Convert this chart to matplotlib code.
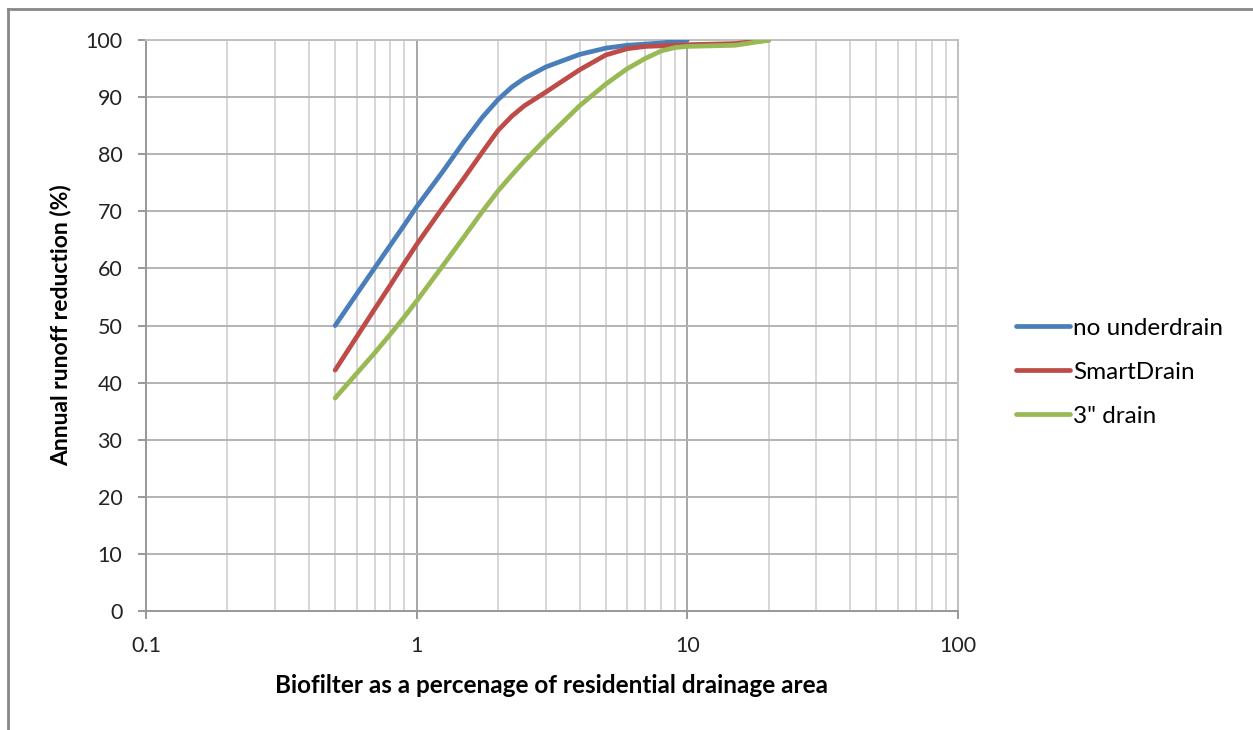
import numpy as np
import matplotlib
matplotlib.use('Agg')
import matplotlib.pyplot as plt
from matplotlib.lines import Line2D
from matplotlib.ticker import LogLocator, FixedLocator, FixedFormatter, NullFormatter

plt.rcParams['font.family'] = ['Lato', 'DejaVu Sans']

# biofilter size as % of drainage area, and annual runoff reduction (%) for each drain type
area_none = [0.5, 0.6, 0.7, 0.8, 0.9, 1, 1.25, 1.5, 1.75, 2, 2.25, 2.5, 3, 4, 5, 6, 8, 10]
red_none = [50.0, 55.5, 60.1, 64.1, 67.6, 70.8, 77.0, 82.3, 86.5, 89.6, 91.8, 93.3, 95.3, 97.5, 98.6, 99.1, 99.5, 100.0]

area_smart = [0.5, 0.6, 0.7, 0.8, 0.9, 1, 1.25, 1.5, 1.75, 2, 2.25, 2.5, 3, 4, 5, 6, 7, 8, 10, 15, 20]
red_smart = [42.2, 48.0, 52.9, 57.1, 60.9, 64.2, 70.7, 75.9, 80.4, 84.2, 86.7, 88.5, 90.9, 94.8, 97.4, 98.5, 98.9, 99.0, 99.2, 99.4, 100.0]

area_drain3 = [0.5, 0.6, 0.7, 0.8, 0.9, 1, 1.25, 1.5, 1.75, 2, 2.25, 2.5, 3, 4, 5, 6, 7, 8, 9, 10, 15, 20]
red_drain3 = [37.3, 41.6, 45.2, 48.5, 51.5, 54.3, 60.5, 65.6, 70.0, 73.6, 76.4, 78.8, 82.7, 88.5, 92.3, 95.0, 96.8, 98.1, 98.7, 98.9, 99.1, 100.0]

series = [
    (area_none, red_none, 'no underdrain', '#4a7ebb'),
    (area_smart, red_smart, 'SmartDrain', '#be4b48'),
    (area_drain3, red_drain3, '3" drain', '#98b954'),
]

x_ticks = [0.1, 1, 10, 100]
x_ticklabels = ['0.1', '1', '10', '100']
y_ticks = np.arange(0, 101, 10)

fig = plt.figure(figsize=(12.53, 7.30), dpi=100)
ax = fig.add_axes([0.1165, 0.163, 0.648, 0.782])

for xs, ys, lab, col in series:
    ax.plot(xs, ys, color=col, lw=3.4, label=lab, solid_capstyle='round',
            solid_joinstyle='round', zorder=3)

ax.set_xscale('log')
ax.set_xlim(0.1, 100)
ax.set_ylim(0, 100)

ax.xaxis.set_major_locator(FixedLocator(x_ticks))
ax.xaxis.set_major_formatter(FixedFormatter(x_ticklabels))
ax.xaxis.set_minor_locator(LogLocator(base=10, subs=np.arange(2, 10)))
ax.xaxis.set_minor_formatter(NullFormatter())
ax.set_yticks(y_ticks)

ax.grid(True, which='major', axis='y', color='#b3b3b3', lw=1.4)
ax.grid(True, which='major', axis='x', color='#a6a6a6', lw=1.4)
ax.grid(True, which='minor', axis='x', color='#d6d6d6', lw=1.4)
ax.set_axisbelow(True)

for side in ['left', 'bottom']:
    ax.spines[side].set_color('#999999')
    ax.spines[side].set_linewidth(1.4)
for side in ['top', 'right']:
    ax.spines[side].set_color('#c0c0c0')
    ax.spines[side].set_linewidth(1.4)

ax.tick_params(axis='y', which='major', length=6, width=1.4, color='#999999',
               pad=11, labelsize=15.5, labelcolor='#222222')
ax.tick_params(axis='x', which='major', length=6, width=1.4, color='#999999',
               pad=12, labelsize=15.5, labelcolor='#222222')
ax.tick_params(axis='x', which='minor', length=0)

ax.set_xlabel('Biofilter as a percenage of residential drainage area',
              fontsize=17.5, fontweight='bold', labelpad=13)
ax.set_ylabel('Annual runoff reduction (%)', fontsize=16.5, fontweight='bold', labelpad=10)

ax.legend(loc='center left', bbox_to_anchor=(0.811, 0.49), bbox_transform=fig.transFigure,
          frameon=False, fontsize=17.5, handlelength=2.2, handletextpad=0.15,
          labelspacing=0.95, borderpad=0, borderaxespad=0)

# outer border of the chart area
fig.add_artist(Line2D([0.0064, 1.0], [0.9877, 0.9877], transform=fig.transFigure,
                      color='#888888', lw=2))
fig.add_artist(Line2D([0.0064, 0.0064], [0.0, 0.9877], transform=fig.transFigure,
                      color='#888888', lw=2))

fig.savefig('out.png', dpi=100)
